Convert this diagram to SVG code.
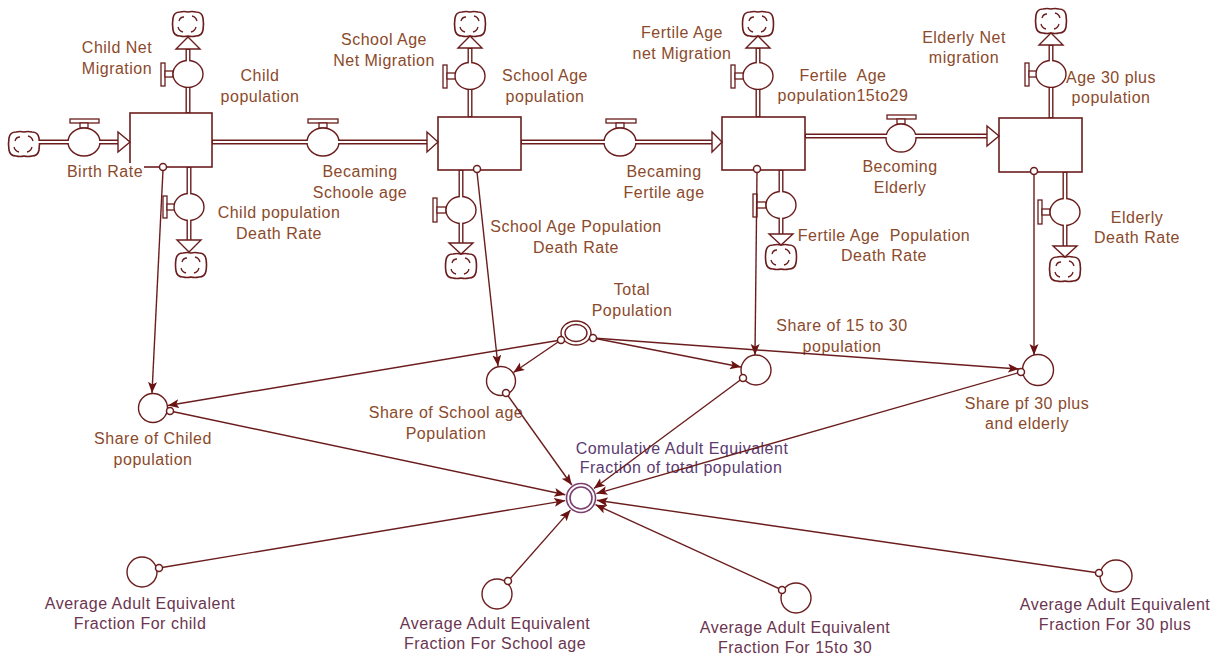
<svg xmlns="http://www.w3.org/2000/svg" width="1222" height="659" viewBox="0 0 1222 659">
<style>
.ln{stroke:#6b1d1d;stroke-width:1.4;fill:none}
.po{stroke:#6b1d1d;stroke-width:5;fill:none}
.pi{stroke:#fff;stroke-width:2.2;fill:none}
.ah{fill:#fff;stroke:#6b1d1d;stroke-width:1.4}
.stock{fill:#fff;stroke:#6b1d1d;stroke-width:1.6}
.valve{fill:#fff;stroke:#6b1d1d;stroke-width:1.4}
.bar{fill:#fff;stroke:#6b1d1d;stroke-width:1.3}
.aux{fill:none;stroke:#6b1d1d;stroke-width:1.4}
.dbl{fill:none;stroke:#7a3f6e;stroke-width:1.6}
.org{fill:#fff;stroke:#6b1d1d;stroke-width:1.5}
.t{font-family:"Liberation Sans",Arial,sans-serif;font-size:16px;letter-spacing:0.5px;fill:#8b4a2b;text-anchor:middle;white-space:pre}
.tp{fill:#5b3b70}
.ta{fill:#6b3550}
</style>
<defs>
<marker id="arr" markerUnits="userSpaceOnUse" markerWidth="12" markerHeight="10" refX="11" refY="4.5" orient="auto">
<path d="M0,0 L11,4.5 L0,9 L2.5,4.5 Z" fill="#6b1212"/>
</marker>
<g id="cloud">
<path d="M-8,-12 Q-4,-13 0,-12 Q4,-13 8,-12 Q14,-12 15,-6 Q16,0 15,6 Q14,12 8,12 Q4,13 0,12 Q-4,13 -8,12 Q-14,12 -15,6 Q-16,0 -15,-6 Q-14,-12 -8,-12 Z" fill="#fff" stroke="#6b1d1d" stroke-width="1.6"/>
<path d="M-9,-3 q1,-4 5,-4 M4,-8 q4,1 5,5 M8,3 q-1,4 -5,5 M-5,8 q-4,-1 -5,-5" fill="none" stroke="#6b1d1d" stroke-width="1.3"/>
</g>
</defs>
<rect width="1222" height="659" fill="#fff"/>

<g id="stock-child"><rect class="stock" x="130" y="113" width="82" height="54"/></g>
<g id="stock-school"><rect class="stock" x="438" y="117" width="83" height="53"/></g>
<g id="stock-fertile"><rect class="stock" x="722" y="117" width="83" height="53"/></g>
<g id="stock-elderly"><rect class="stock" x="999" y="118" width="83" height="54"/></g>

<g id="clouds">
<use href="#cloud" transform="translate(24,144)"/>
<use href="#cloud" transform="translate(188,24)"/>
<use href="#cloud" transform="translate(191,265)"/>
<use href="#cloud" transform="translate(470,24)"/>
<use href="#cloud" transform="translate(461,266)"/>
<use href="#cloud" transform="translate(758,24)"/>
<use href="#cloud" transform="translate(781,257)"/>
<use href="#cloud" transform="translate(1051,21)"/>
<use href="#cloud" transform="translate(1065,269)"/>
</g>

<g id="valve-birth"><rect class="bar" x="70" y="119" width="29" height="4"/><rect class="bar" x="80" y="123" width="8" height="5"/><ellipse class="valve" cx="84" cy="142" rx="16" ry="14"/></g>
<g id="valve-school-age"><rect class="bar" x="308" y="119" width="30" height="4"/><rect class="bar" x="319" y="123" width="8" height="5"/><ellipse class="valve" cx="323" cy="142" rx="16" ry="14"/></g>
<g id="valve-fertile-age"><rect class="bar" x="606" y="119" width="30" height="4"/><rect class="bar" x="616" y="123" width="8" height="5"/><ellipse class="valve" cx="620" cy="142" rx="16" ry="14"/></g>
<g id="valve-elderly"><rect class="bar" x="887" y="115" width="29" height="4"/><rect class="bar" x="897" y="119" width="8" height="5"/><ellipse class="valve" cx="901" cy="138" rx="15" ry="14"/></g>

<g id="valve-child-mig"><rect class="bar" x="161" y="63" width="4" height="23"/><rect class="bar" x="165" y="71" width="8" height="6"/><ellipse class="valve" cx="188" cy="74" rx="15" ry="13.5"/></g>
<g id="valve-child-death"><rect class="bar" x="163" y="196" width="4" height="22"/><rect class="bar" x="167" y="204" width="8" height="6"/><ellipse class="valve" cx="189" cy="207" rx="15" ry="13.5"/></g>
<g id="valve-school-mig"><rect class="bar" x="443" y="65" width="4" height="23"/><rect class="bar" x="447" y="73" width="9" height="6"/><ellipse class="valve" cx="470" cy="76" rx="15" ry="13.5"/></g>
<g id="valve-school-death"><rect class="bar" x="433" y="198" width="4" height="24"/><rect class="bar" x="437" y="207" width="9" height="6"/><ellipse class="valve" cx="461" cy="210" rx="15" ry="13.5"/></g>
<g id="valve-fertile-mig"><rect class="bar" x="731" y="65" width="4" height="23"/><rect class="bar" x="735" y="73" width="9" height="6"/><ellipse class="valve" cx="758" cy="76" rx="15" ry="13.5"/></g>
<g id="valve-fertile-death"><rect class="bar" x="753" y="194" width="4" height="23"/><rect class="bar" x="757" y="202" width="9" height="6"/><ellipse class="valve" cx="781" cy="205" rx="15" ry="13.5"/></g>
<g id="valve-elderly-mig"><rect class="bar" x="1025" y="63" width="4" height="23"/><rect class="bar" x="1029" y="71" width="8" height="6"/><ellipse class="valve" cx="1051" cy="74" rx="15" ry="13.5"/></g>
<g id="valve-elderly-death"><rect class="bar" x="1038" y="200" width="4" height="24"/><rect class="bar" x="1042" y="209" width="8" height="6"/><ellipse class="valve" cx="1065" cy="212" rx="15" ry="13.5"/></g>

<g id="aux-total"><ellipse class="aux" cx="576" cy="333" rx="15" ry="12"/><ellipse class="aux" cx="576" cy="333" rx="11" ry="8.5"/></g>
<g id="aux-share-child"><circle class="aux" cx="153" cy="408" r="14.5"/></g>
<g id="aux-share-school"><circle class="aux" cx="501" cy="381" r="14.5"/></g>
<g id="aux-share-15-30"><circle class="aux" cx="756" cy="370" r="15"/></g>
<g id="aux-share-30plus"><circle class="aux" cx="1038" cy="370" r="15.5"/></g>
<g id="aux-cumulative"><circle class="dbl" cx="581" cy="498" r="14.5"/><circle class="dbl" cx="581" cy="498" r="11"/></g>
<g id="aux-avg-child"><circle class="aux" cx="142" cy="572" r="15"/></g>
<g id="aux-avg-school"><circle class="aux" cx="497" cy="594" r="15"/></g>
<g id="aux-avg-15-30"><circle class="aux" cx="796" cy="598" r="15"/></g>
<g id="aux-avg-30plus"><circle class="aux" cx="1116" cy="576" r="16"/></g>

<g id="labels">
<text class="t" x="117" y="53">Child Net<tspan x="117" dy="21">Migration</tspan></text>
<text class="t" x="260" y="81">Child<tspan x="260" dy="21">population</tspan></text>
<rect x="64" y="163" width="80" height="18" fill="#fff"/>
<text class="t" x="105" y="177">Birth Rate</text>
<text class="t" x="360" y="177">Becaming<tspan x="360" dy="21">Schoole age</tspan></text>
<text class="t" x="279" y="218">Child population<tspan x="279" dy="21">Death Rate</tspan></text>
<text class="t" x="384" y="45">School Age<tspan x="384" dy="21">Net Migration</tspan></text>
<text class="t" x="545" y="81">School Age<tspan x="545" dy="21">population</tspan></text>
<text class="t" x="664" y="177">Becaming<tspan x="664" dy="21">Fertile age</tspan></text>
<text class="t" x="576" y="232">School Age Population<tspan x="576" dy="21">Death Rate</tspan></text>
<text class="t" x="682" y="38">Fertile Age<tspan x="682" dy="21">net Migration</tspan></text>
<text class="t" x="843" y="81">Fertile  Age<tspan x="843" dy="20">population15to29</tspan></text>
<text class="t" x="900" y="172">Becoming<tspan x="900" dy="21">Elderly</tspan></text>
<text class="t" x="884" y="241">Fertile Age  Population<tspan x="884" dy="20">Death Rate</tspan></text>
<text class="t" x="964" y="43">Elderly Net<tspan x="964" dy="20">migration</tspan></text>
<text class="t" x="1111" y="83">Age 30 plus<tspan x="1111" dy="20">population</tspan></text>
<text class="t" x="1137" y="223">Elderly<tspan x="1137" dy="20">Death Rate</tspan></text>
<text class="t" x="632" y="295">Total<tspan x="632" dy="21">Population</tspan></text>
<text class="t" x="842" y="331">Share of 15 to 30<tspan x="842" dy="21">population</tspan></text>
<text class="t" x="446" y="418">Share of School age<tspan x="446" dy="21">Population</tspan></text>
<text class="t" x="153" y="444">Share of Chiled<tspan x="153" dy="21">population</tspan></text>
<text class="t" x="1027" y="409">Share pf 30 plus<tspan x="1027" dy="20">and elderly</tspan></text>
<text class="t tp" x="682" y="454">Comulative Adult Equivalent<tspan x="681" dy="19">Fraction of total population</tspan></text>
<text class="t ta" x="140" y="609">Average Adult Equivalent<tspan x="140" dy="20">Fraction For child</tspan></text>
<text class="t ta" x="495" y="629">Average Adult Equivalent<tspan x="495" dy="20">Fraction For School age</tspan></text>
<text class="t ta" x="795" y="633">Average Adult Equivalent<tspan x="795" dy="20">Fraction For 15to 30</tspan></text>
<text class="t ta" x="1115" y="610">Average Adult Equivalent<tspan x="1115" dy="20">Fraction For 30 plus</tspan></text>
</g>

<g id="connectors">
<g id="pipes">
<path class="po" d="M39,142H68M100,142H118M212,142H307M339,142H427M521,142H604M636,142H712M805,136H886M916,136H987M188,113V87M188,61V49M189,167V194M189,220V240M470,117V89M470,63V48M461,170V197M461,223V243M758,117V89M758,63V48M781,170V192M781,218V234M1051,118V87M1051,61V45M1065,172V199M1065,225V246"/>
<path class="pi" d="M38,142H69M99,142H119M213,142H308M338,142H428M522,142H605M635,142H713M806,136H887M915,136H988M188,112V88M188,62V50M189,168V195M189,219V241M470,116V90M470,64V49M461,171V198M461,222V244M758,116V90M758,64V49M781,171V193M781,217V235M1051,117V88M1051,62V46M1065,173V200M1065,224V247"/>
<path class="ah" d="M118,132L118,152L130,142Z M427,132L427,152L438,142Z M712,132L712,152L722,142Z M987,126L987,146L999,136Z M176,49L200,49L188,37Z M177,240L201,240L189,252Z M458,48L482,48L470,36Z M449,243L473,243L461,254Z M746,48L770,48L758,36Z M769,234L793,234L781,245Z M1039,45L1063,45L1051,33Z M1053,246L1077,246L1065,257Z"/>
</g>
<g id="links" marker-end="url(#arr)">
<path class="ln" d="M163,170L152,393"/>
<path class="ln" d="M477,172L498,366"/>
<path class="ln" d="M757,172L755,355"/>
<path class="ln" d="M1034,174L1034,355"/>
<path class="ln" d="M561,340L168,405.5"/>
<path class="ln" d="M561,340L513.4,372.5"/>
<path class="ln" d="M593,338L741,367"/>
<path class="ln" d="M593,338L1019,369"/>
<path class="ln" d="M170,411L565.3,494.7"/>
<path class="ln" d="M506,393L571.8,485"/>
<path class="ln" d="M743,378L593.9,488.5"/>
<path class="ln" d="M1021,372L596.4,493.6"/>
<path class="ln" d="M159,568L565.2,500.6"/>
<path class="ln" d="M508,581L570.5,510.1"/>
<path class="ln" d="M782,590L595.5,504.7"/>
<path class="ln" d="M1099,573L596.8,500.3"/>
</g>
<g id="link-origins">
<circle class="org" cx="163" cy="167" r="3.5"/>
<circle class="org" cx="477" cy="169" r="3.5"/>
<circle class="org" cx="757" cy="169" r="3.5"/>
<circle class="org" cx="1034" cy="171" r="3.5"/>
<circle class="org" cx="561" cy="340" r="3.5"/>
<circle class="org" cx="593" cy="338" r="3.5"/>
<circle class="org" cx="170" cy="411" r="3.5"/>
<circle class="org" cx="506" cy="393" r="3.5"/>
<circle class="org" cx="743" cy="378" r="3.5"/>
<circle class="org" cx="1021" cy="372" r="3.5"/>
<circle class="org" cx="159" cy="568" r="3.5"/>
<circle class="org" cx="508" cy="581" r="3.5"/>
<circle class="org" cx="782" cy="590" r="3.5"/>
<circle class="org" cx="1099" cy="573" r="3.5"/>
</g>
</g>
</svg>
